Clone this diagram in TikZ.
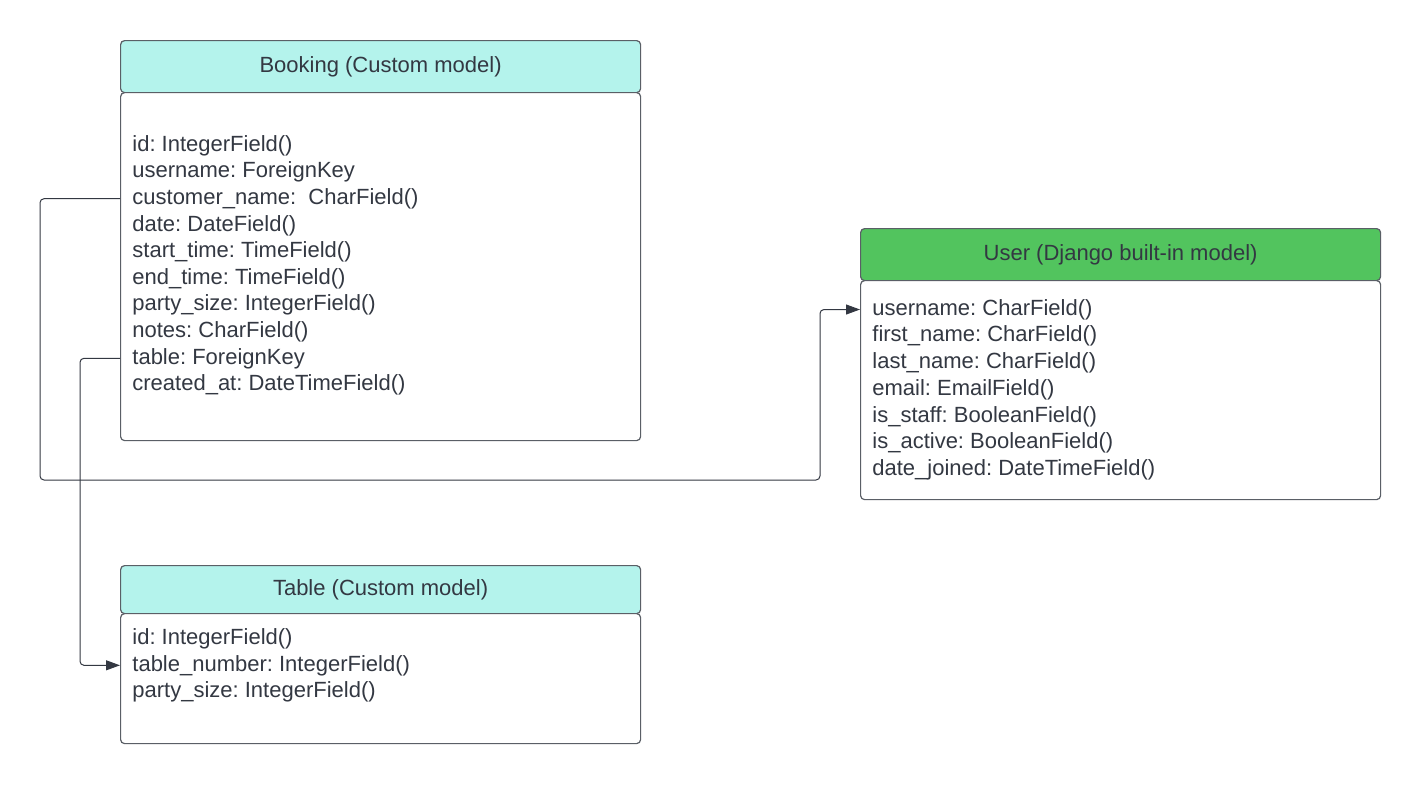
\documentclass[tikz,border=0pt]{standalone}
\usepackage{fontspec}
\setmainfont{Liberation Sans}
\frenchspacing
\usetikzlibrary{arrows.meta}
\definecolor{linegray}{HTML}{5A5F66}
\definecolor{textgray}{HTML}{333842}
\definecolor{custfill}{HTML}{B4F3EC}
\definecolor{djfill}{HTML}{52C45E}
\tikzset{
  hdr/.style={draw=linegray, line width=0.6pt, rounded corners=2pt, minimum width=260pt, minimum height=26pt, anchor=north west, text=textgray, font=\fontsize{11}{13}\selectfont},
  bodybox/.style={draw=linegray, line width=0.6pt, rounded corners=2pt, fill=white, minimum width=260pt, anchor=north west},
  field/.style={anchor=west, inner sep=0pt, text=textgray, font=\fontsize{11}{13}\selectfont},
  conn/.style={draw=textgray, line width=0.5pt, rounded corners=2pt, -{Triangle[length=7pt,width=5pt]}}
}
\begin{document}
\begin{tikzpicture}[x=0.5pt,y=-0.5pt]
\useasboundingbox[fill=white] (0,0) rectangle (1420,784);

%%%%% BOOKING %%%%%
\node[hdr, fill=custfill] (bookhead) at (120,40) {Booking (Custom model)};
\node[bodybox, minimum height=174pt] (bookbody) at (120,92) {};
\foreach \t [count=\i] in {id: IntegerField(), username: ForeignKey, customer\_name:\ \ CharField(), date: DateField(), start\_time: TimeField(), end\_time: TimeField(), party\_size: IntegerField(), notes: CharField(), table: ForeignKey, created\_at: DateTimeField()}
  \node[field] (bf\i) at (132,{145.5+26.6*(\i-1)}) {\t};

%%%%% USER %%%%%
\node[hdr, fill=djfill] (userhead) at (860,228) {User (Django built-in model)};
\node[bodybox, minimum height=109.5pt] (userbody) at (860,280) {};
\foreach \t [count=\i] in {username: CharField(), first\_name: CharField(), last\_name: CharField(), email: EmailField(), is\_staff: BooleanField(), is\_active: BooleanField(), date\_joined: DateTimeField()}
  \node[field] (uf\i) at (872,{309.5+26.7*(\i-1)}) {\t};

%%%%% TABLE %%%%%
\node[hdr, fill=custfill, minimum height=24pt] (tablehead) at (120,565) {Table (Custom model)};
\node[bodybox, minimum height=65pt] (tablebody) at (120,613) {};
\foreach \t [count=\i] in {id: IntegerField(), table\_number: IntegerField(), party\_size: IntegerField()}
  \node[field] (tf\i) at (132,{638.5+26.8*(\i-1)}) {\t};

%%%%% LINKS %%%%%
\coordinate (busA) at (40,480);
\coordinate (busB) at (820,480);
\draw[conn] (bookbody.west |- bf3.west) -| (busA) -- (busB) |- (userbody.west |- uf1.west);
\draw[conn] (bookbody.west |- bf9.west) -- ++(-40,0) |- (tablebody.west |- tf2.west);
\end{tikzpicture}
\end{document}
